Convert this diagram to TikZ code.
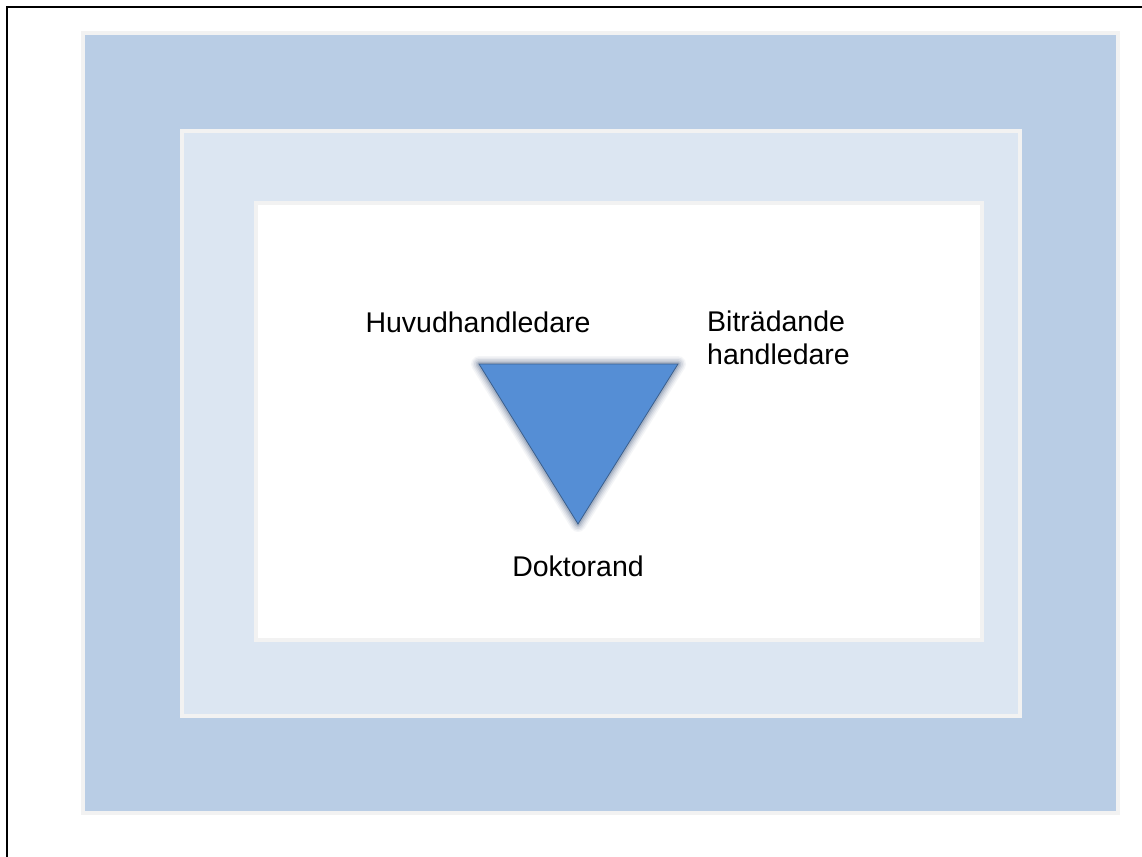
\documentclass[tikz,border=0pt]{standalone}
\usepackage{fontspec}
\setmainfont{Liberation Sans}
\definecolor{outerfill}{HTML}{B9CDE5}
\definecolor{midfill}{HTML}{DCE6F2}
\definecolor{rim}{HTML}{F2F2F2}
\definecolor{trifill}{HTML}{558ED5}
\definecolor{triedge}{HTML}{3B5F8C}
\definecolor{glow}{HTML}{2E4A70}
\tikzset{
  panel/.style={draw=rim, line width=4pt},
  lbl/.style={font=\fontsize{28.5}{32.5}\selectfont, inner sep=0pt, text=black},
}
\begin{document}
\begin{tikzpicture}[x=1pt,y=-1pt]
\useasboundingbox (0,0) rectangle (1142,856);
\fill[white] (0,0) rectangle (1142,856);
\draw[line width=2pt, black] (7,880) -- (7,7) -- (1160,7);
\draw[panel, fill=outerfill] (83,33) rectangle (1118,813);
\draw[panel, fill=midfill] (182,131) rectangle (1020,716);
\draw[panel, fill=white] (256,203) rectangle (982,640);
\coordinate (tl) at (479,364);
\coordinate (tr) at (678,364);
\coordinate (bt) at (578,524);
\foreach \w/\o in {16/0.05,13/0.07,10/0.09,7/0.12,4/0.16}{
  \draw[glow, line width=\w pt, opacity=\o, line join=round] (tl) -- (tr) -- (bt) -- cycle;
}
\draw[fill=trifill, draw=triedge, line width=0.8pt, line join=miter] (tl) -- (tr) -- (bt) -- cycle;
\node[lbl] (huvud) at (478,322) {Huvudhandledare};
\node[lbl, align=left, anchor=north west] (bitr) at (707,311) {Biträdande\\handledare};
\node[lbl] (dokt) at (578,566) {Doktorand};
\end{tikzpicture}
\end{document}
